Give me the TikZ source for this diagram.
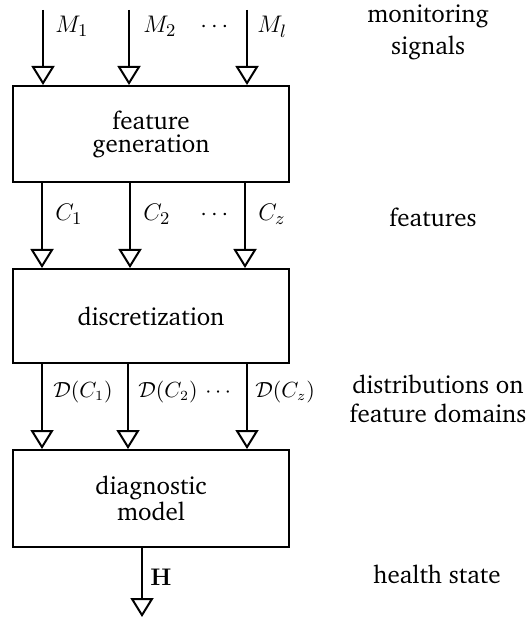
\documentclass[tikz,border=0pt]{standalone}
\usepackage[T1]{fontenc}
\usepackage{charter}
\usetikzlibrary{arrows.meta}
\begin{document}
\begin{tikzpicture}[x=0.5pt,y=-0.5pt,
  every node/.style={font=\fontsize{10.5}{12.5}\selectfont},
  txt/.style={font=\fontsize{12.5}{11.5}\selectfont},
  box/.style={draw, line width=1pt, minimum width=138pt, inner sep=0pt, align=center, txt},
  sig/.style={line width=1pt, -{Triangle[open, width=11.5pt, length=9.5pt, line width=1pt]}},
  lab/.style={anchor=base west, inner sep=0pt},
  biglab/.style={lab, txt},
  side/.style={anchor=base, inner sep=0pt, txt}]
\useasboundingbox (0,0) rectangle (530,619);
% boxes
\node[box, minimum height=48pt] (fg) at (151,134) {feature\\generation};
\node[box, minimum height=47pt] (dz) at (151,316) {discretization};
\node[box, minimum height=48.5pt] (dm) at (151,498.5) {diagnostic\\model};
% monitoring signal inputs
\coordinate (s1) at (43,10);
\coordinate (s2) at (129,10);
\coordinate (s3) at (247,10);
\draw[sig] (s1) -- (s1 |- fg.north);
\draw[sig] (s2) -- (s2 |- fg.north);
\draw[sig] (s3) -- (s3 |- fg.north);
\node[biglab] (m1) at (55,33) {$M_1$};
\node[biglab] (m2) at (143,33) {$M_2$};
\node[biglab] (md) at (200,33) {$\cdots$};
\node[biglab] (ml) at (257,33) {$M_l$};
% features
\coordinate (c1) at (42,0);
\coordinate (c2) at (130,0);
\coordinate (c3) at (245,0);
\draw[sig] (fg.south -| c1) -- (dz.north -| c1);
\draw[sig] (fg.south -| c2) -- (dz.north -| c2);
\draw[sig] (fg.south -| c3) -- (dz.north -| c3);
\node[biglab] (cl1) at (55,221) {$C_1$};
\node[biglab] (cl2) at (143,221) {$C_2$};
\node[biglab] (cld) at (200,221) {$\cdots$};
\node[biglab] (clz) at (258,221) {$C_z$};
% distributions
\coordinate (d1) at (42,0);
\coordinate (d2) at (128,0);
\coordinate (d3) at (247,0);
\draw[sig] (dz.south -| d1) -- (dm.north -| d1);
\draw[sig] (dz.south -| d2) -- (dm.north -| d2);
\draw[sig] (dz.south -| d3) -- (dm.north -| d3);
\node[lab] (dl1) at (53,397) {$\mathcal{D}(C_1)$};
\node[lab] (dl2) at (138,397) {$\mathcal{D}(C_2)$};
\node[lab] (dld) at (205,397) {$\cdots$};
\node[lab] (dlz) at (255,397) {$\mathcal{D}(C_z)$};
% health state
\coordinate (hend) at (142,617);
\draw[sig] (dm.south -| hend) -- (hend);
\node[biglab] (hl) at (150,585) {$\mathbf{H}$};
% side labels
\node[side] (t1a) at (428,23) {monitoring};
\node[side] (t1b) at (428,55) {signals};
\node[side] (t2) at (433,227) {features};
\node[side] (t3a) at (438,393) {distributions on};
\node[side] (t3b) at (438,422) {feature domains};
\node[side] (t4) at (437,583) {health state};
\end{tikzpicture}
\end{document}
